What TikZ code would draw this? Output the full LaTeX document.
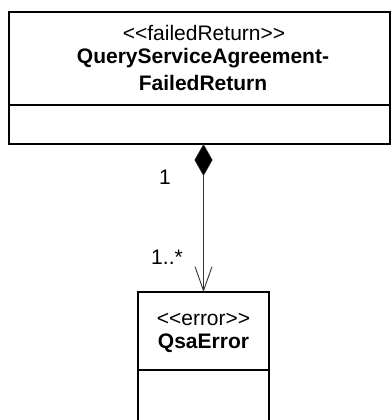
\documentclass[tikz,border=0pt]{standalone}
\usepackage{fontspec}
\setmainfont{Liberation Sans}
\usetikzlibrary{arrows.meta}
\begin{document}
\begin{tikzpicture}[x=1pt,y=-1pt,
  font=\fontsize{21}{25}\selectfont,
  box/.style={draw, line width=1.1pt, inner sep=0pt, outer sep=0pt},
  divider/.style={line width=1.1pt},
  txt/.style={inner sep=0pt, anchor=center},
  bold/.style={font=\fontsize{21}{25}\selectfont\bfseries},
  conn/.style={line width=0.9pt, draw=black!80}]
\useasboundingbox (0,0) rectangle (391,420);
% top class
\node[box, minimum width=381pt, minimum height=132pt, anchor=north west] (top) at (9,12) {};
\draw[divider] (9,105) -- (390,105);
\node[txt] (topst) at (204,33) {<{}<failedReturn>{}>};
\node[txt, bold] (topn1) at (203,58) {QueryServiceAgreement-};
\node[txt, bold] (topn2) at (203,83) {FailedReturn};
% bottom class
\node[box, minimum width=131pt, minimum height=132pt, anchor=north west] (bot) at (138,292) {};
\draw[divider] (138,370) -- (269,370);
\node[txt] (botst) at (203.5,319) {<{}<error>{}>};
\node[txt, bold] (botn) at (203.5,343) {QsaError};
% connector
\coordinate (cs) at (203.5,144);
\draw[conn, {Diamond[length=32pt,width=18pt,fill=black,line width=0.5pt]}-{Straight Barb[length=24pt,width=17pt,line width=0.9pt]}] (cs) -- (bot.north);
\node[txt] (m1) at (165,177) {1};
\node[txt] (m2) at (167,257) {1..*};
\end{tikzpicture}
\end{document}
